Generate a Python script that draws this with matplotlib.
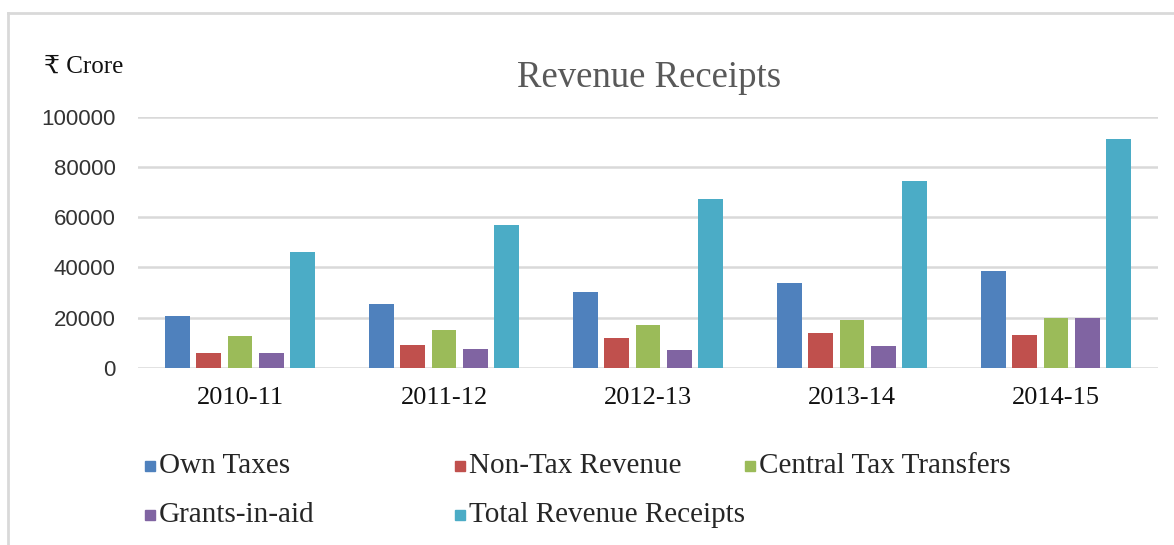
import matplotlib
matplotlib.use("Agg")
import matplotlib.pyplot as plt
import numpy as np
from matplotlib.patches import Rectangle
from matplotlib.lines import Line2D

# Revenue receipts by year, in Rs crore
years = ["2010-11", "2011-12", "2012-13", "2013-14", "2014-15"]
own_taxes = [20700, 25300, 30300, 33700, 38600]
non_tax_revenue = [6100, 9100, 12000, 13800, 13100]
central_tax_transfers = [12800, 15000, 17100, 19100, 19800]
grants_in_aid = [5800, 7500, 7300, 8700, 19800]
total_revenue = [46100, 57100, 67100, 74400, 91300]

series_names = ["Own Taxes", "Non-Tax Revenue", "Central Tax Transfers",
                "Grants-in-aid", "Total Revenue Receipts"]
series_values = [own_taxes, non_tax_revenue, central_tax_transfers,
                 grants_in_aid, total_revenue]
colors = ["#4F81BD", "#C0504D", "#9BBB59", "#8064A2", "#4BACC6"]

SERIF = ["Liberation Serif", "DejaVu Serif", "DejaVu Sans"]

fig = plt.figure(figsize=(11.74, 5.45), dpi=100)
W, H = 1174, 545

def fx(px):
    return px / W

def fy(py):
    return 1 - py / H

ax = fig.add_axes([fx(138), fy(368), fx(1158) - fx(138), fy(116.7) - fy(368)])

x = np.arange(len(years))
bar_w = 0.1225
step = 0.152
for i, (vals, col) in enumerate(zip(series_values, colors)):
    ax.bar(x + (i - 2) * step, vals, width=bar_w, color=col, zorder=3)

ax.set_xlim(-0.5, len(years) - 0.5)
ax.set_ylim(0, 100000)
ax.set_yticks(np.arange(0, 100001, 20000))
ax.set_yticklabels([str(v) for v in range(0, 100001, 20000)],
                   fontsize=16, color="#333333", family="Liberation Sans")
ax.set_xticks(x)
ax.set_xticklabels(years, fontsize=19, family=SERIF, color="#111111")
ax.tick_params(axis="both", length=0)
ax.tick_params(axis="y", pad=16)
ax.tick_params(axis="x", pad=14)
ax.yaxis.grid(True, color="#d9d9d9", lw=1.8, zorder=0)
for s in ax.spines.values():
    s.set_visible(False)

# Title and unit label
fig.text(fx(649), fy(78), "Revenue Receipts", ha="center", va="center",
         fontsize=26.5, family=SERIF, color="#595959")
fig.text(fx(44), fy(67), "₹ Crore", ha="left", va="center",
         fontsize=18, family=SERIF, color="#111111")

# Legend entries laid out in two rows
legend_pos = [(145, 466), (455, 466), (745, 466), (145, 515), (455, 515)]
for (px, py), name, col in zip(legend_pos, series_names, colors):
    fig.add_artist(Rectangle((fx(px), fy(py + 5)), fx(10), 10 / H,
                             transform=fig.transFigure, color=col))
    fig.text(fx(px + 14), fy(py), name, ha="left", va="center",
             fontsize=21, family=SERIF, color="#262626")

# Chart frame (top and left edges visible)
fig.add_artist(Line2D([fx(8), 1], [fy(13), fy(13)], transform=fig.transFigure,
                      color="#d9d9d9", lw=2))
fig.add_artist(Line2D([fx(8), fx(8)], [fy(13), 0], transform=fig.transFigure,
                      color="#d9d9d9", lw=2))

fig.savefig("out.png", dpi=100)
